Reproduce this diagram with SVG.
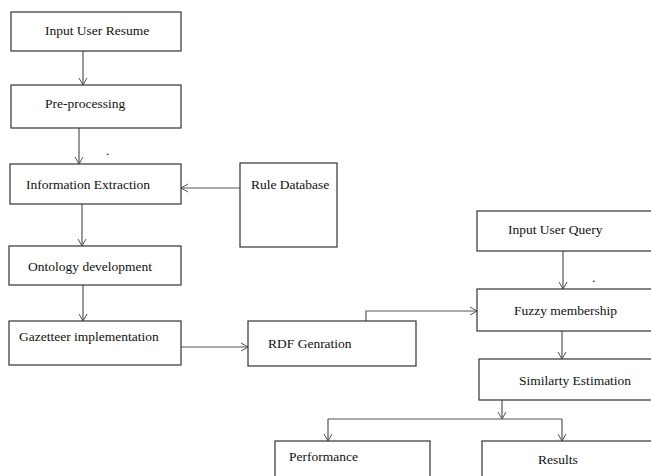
<svg xmlns="http://www.w3.org/2000/svg" width="651" height="476" viewBox="0 0 651 476">
<style>
.box{fill:#fff;stroke:#333;stroke-width:1.2}
.t{font-family:"Liberation Serif","Times New Roman",serif;font-size:13.5px;fill:#111}
.c{fill:none;stroke:#555;stroke-width:1.2}
</style>
<defs>
<marker id="ah" markerUnits="userSpaceOnUse" markerWidth="12" markerHeight="12" refX="8" refY="5" orient="auto">
<path d="M1,1 L8,5 L1,9" fill="none" stroke="#555" stroke-width="1"/>
</marker>
</defs>
<rect width="651" height="476" fill="#fff"/>
<g id="connectors">
<path class="c" d="M83,51 V85" marker-end="url(#ah)"/>
<path class="c" d="M79,128 V164" marker-end="url(#ah)"/>
<path class="c" d="M240,188 H181" marker-end="url(#ah)"/>
<path class="c" d="M82,204 V246" marker-end="url(#ah)"/>
<path class="c" d="M83,285 V321" marker-end="url(#ah)"/>
<path class="c" d="M181,347 H248" marker-end="url(#ah)"/>
<path class="c" d="M366,321 V311 H477" marker-end="url(#ah)"/>
<path class="c" d="M563,251 V289" marker-end="url(#ah)"/>
<path class="c" d="M562,331 V359" marker-end="url(#ah)"/>
<path class="c" d="M502,400 V419" marker-end="url(#ah)"/>
<path class="c" d="M328,419 H562"/>
<path class="c" d="M328,419 V441" marker-end="url(#ah)"/>
<path class="c" d="M562,419 V441" marker-end="url(#ah)"/>
</g>
<g id="input-user-resume"><rect class="box" x="11" y="12" width="170" height="39"/><text class="t" x="45" y="35">Input User Resume</text></g>
<g id="pre-processing"><rect class="box" x="11" y="85" width="170" height="43"/><text class="t" x="45" y="108">Pre-processing</text></g>
<g id="information-extraction"><rect class="box" x="10" y="164" width="171" height="40"/><text class="t" x="26" y="189">Information Extraction</text></g>
<g id="rule-database"><rect class="box" x="240" y="163" width="97" height="84"/><text class="t" x="251" y="189">Rule Database</text></g>
<g id="ontology-development"><rect class="box" x="9" y="246" width="172" height="39"/><text class="t" x="28" y="271">Ontology development</text></g>
<g id="gazetteer-implementation"><rect class="box" x="9" y="321" width="172" height="44"/><text class="t" x="19" y="341">Gazetteer implementation</text></g>
<g id="rdf-genration"><rect class="box" x="248" y="321" width="168" height="45"/><text class="t" x="268" y="348">RDF Genration</text></g>
<g id="input-user-query"><rect class="box" x="477" y="211" width="180" height="40"/><text class="t" x="508" y="234">Input User Query</text></g>
<g id="fuzzy-membership"><rect class="box" x="477" y="289" width="180" height="42"/><text class="t" x="514" y="315">Fuzzy membership</text></g>
<g id="similarty-estimation"><rect class="box" x="479" y="359" width="178" height="41"/><text class="t" x="519" y="385">Similarty Estimation</text></g>
<g id="performance"><rect class="box" x="275" y="441" width="155" height="45"/><text class="t" x="289" y="461">Performance</text></g>
<g id="results"><rect class="box" x="482" y="441" width="175" height="45"/><text class="t" x="538" y="464">Results</text></g>
<text class="t" x="106" y="155" font-size="8">.</text>
<text class="t" x="592" y="282" font-size="8">.</text>
</svg>
